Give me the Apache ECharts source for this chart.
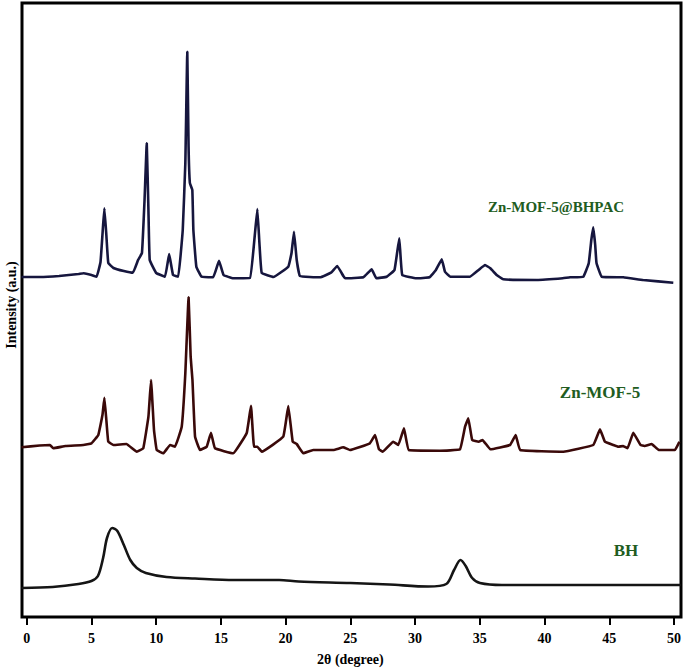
<!DOCTYPE html>
<html>
<head>
<meta charset="utf-8">
<script src="https://cdn.jsdelivr.net/npm/echarts@6/dist/echarts.min.js"></script>
<style>
html,body{margin:0;padding:0;background:#fff;}
#chart{width:685px;height:671px;}
</style>
</head>
<body>
<div id="chart"></div>
<script>
// ---- Data (2θ in degrees, intensity in arbitrary units above each trace's baseline) ----
const seriesNames = ["Zn-MOF-5@BHPAC", "Zn-MOF-5", "BH"];
const seriesOffsets = [337, 164, 27];   // vertical stacking offsets (a.u.)

const thetaComposite = [-0.4,1.0,2.5,4.0,4.4,5.0,5.4,5.7,5.9,6.0,6.15,6.3,6.7,7.5,8.2,8.6,8.9,9.1,9.27,9.4,9.5,10.0,10.68,11.0,11.3,11.7,12.05,12.25,12.4,12.5,12.6,12.79,12.87,13.1,13.5,14.4,14.85,15.2,15.95,17.24,17.6,17.81,17.97,18.15,19.05,20.2,20.45,20.64,20.85,21.1,22.65,23.5,23.98,24.45,24.6,26.0,26.64,27.0,27.8,28.4,28.77,29.0,30.1,31.1,31.6,32.05,32.3,32.7,34.23,34.9,35.39,35.8,36.29,36.8,39.38,41.4,41.95,42.98,43.4,43.6,43.75,43.9,44.0,44.4,46.07,47.6,49.93];
const intensityComposite = [3,3,4,6,6.7,5,3.3,18,55,71.7,45,17,12,9,7.3,20,27,80,136.7,70,20,7,3.3,26,5,3.3,50,117,228.3,133.3,97,90,50,13.3,3.3,2.7,19.3,5,1.7,2,43,71,37,7,3,13.3,27,48.3,20,4,2.7,7.3,14,4,1.7,2.7,10.7,1.7,3.3,10,41.7,5,1.7,2.7,10,20.7,8.3,3.3,3.3,10,15,11.7,5,0.7,0,1.7,2.7,3.3,16.7,40,52.7,35,17,3.3,2.7,0,-2.7];

const thetaMOF = [-0.4,1.0,1.8,2.05,3.0,4.37,5.0,5.53,5.85,6.0,6.15,6.3,6.7,7.7,8.5,9.0,9.4,9.6,9.83,10.04,10.55,11.07,11.45,11.97,12.25,12.5,12.66,12.8,13.0,13.38,13.9,14.23,14.54,15.95,16.99,17.32,17.55,17.81,18.15,19.81,20.2,20.54,20.85,21.36,22.13,23.68,24.45,24.96,26.5,26.9,27.2,27.5,28.3,28.7,29.13,29.5,31.9,33.46,33.85,34.1,34.4,34.9,35.2,35.8,37.32,37.76,38.1,41.44,43.75,44.27,44.65,45.3,45.68,46.06,46.4,46.84,47.4,47.7,48.26,48.8,50.06,50.4];
const intensityMOF = [5.7,7.5,8,4.7,7,8,9.7,18,38,55.3,33,11.3,8,9,1.3,4.7,36.3,73,23,3,-0.3,8,6.3,26.3,80,155.7,96.3,73,16.3,3,6.3,20.3,4.7,-0.3,20,47.3,6.3,6.3,1.3,16.3,47,11.3,9,-0.3,3,3,5.7,3,9.7,18,3.7,1.3,11.3,8,24.7,3,2.3,3.7,26.3,34.7,13,11.3,13,3.7,8,18,3,1.3,8,23.7,11.3,8,6.3,7,4.7,20.3,8,7,9,3,3,11.3];

const thetaBH = [-0.4,2,4,5,5.5,5.9,6.2,6.6,7.0,7.5,8.0,8.5,9.2,10.8,13,16,19.5,21,25,28,31,32.4,33.0,33.5,33.9,34.4,35.0,36.7,40,45,50.5];
const intensityBH = [2,3,6,9,14,32,52,62,59,45,30,22,17,13,11.5,10,10,8.5,7,5.5,3.5,6,20,30,24,12,7,5,5,5,5];

const xTickMin = 0, xTickMax = 50, xTickStep = 5;
const xAxisTitle = "2θ (degree)";
const yAxisTitle = "Intensity (a.u.)";

// ---- Build options ----
function pairs(th, inten, off) {
  return th.map((t, i) => [t, off + inten[i]]);
}
const thetas = [thetaComposite, thetaMOF, thetaBH];
const intens = [intensityComposite, intensityMOF, intensityBH];
const colors = ["#16163e", "#3a0909", "#151515"];
const smoothing = [0.08, 0.08, 0.3];

const serif = '"Liberation Serif", "Times New Roman", "DejaVu Serif", serif';
const labelGreen = "#215c21";

const chart = echarts.init(document.getElementById('chart'), null, {renderer: 'svg'});
const option = {
  animation: false,
  backgroundColor: '#ffffff',
  grid: [
    {left: 22, top: 3, width: 659, height: 614, show: true, borderColor: '#000', borderWidth: 3, backgroundColor: 'transparent'},
    {left: 26.7, top: 3, width: 647.3, height: 617, show: false}
  ],
  xAxis: [
    {gridIndex: 0, type: 'value', min: -0.363, max: 50.525, show: false},
    {gridIndex: 1, type: 'value', min: xTickMin, max: xTickMax, interval: xTickStep,
     axisLine: {show: false},
     axisTick: {show: true, length: 8, inside: false, lineStyle: {color: '#000', width: 2}},
     splitLine: {show: false},
     axisLabel: {margin: 14, color: '#000', fontFamily: serif, fontWeight: 'bold', fontSize: 14},
     name: xAxisTitle, nameLocation: 'middle', nameGap: 35,
     nameTextStyle: {color: '#000', fontFamily: serif, fontWeight: 'bold', fontSize: 14}}
  ],
  yAxis: [
    {gridIndex: 0, type: 'value', min: 0, max: 614, show: false},
    {gridIndex: 1, type: 'value', min: 0, max: 1, show: false}
  ],
  series: seriesNames.map((name, k) => ({
    name: name,
    type: 'line',
    xAxisIndex: 0,
    yAxisIndex: 0,
    data: pairs(thetas[k], intens[k], seriesOffsets[k]),
    showSymbol: false,
    smooth: smoothing[k],
    lineStyle: {color: colors[k], width: 2.6},
    itemStyle: {color: colors[k]}
  })),
  graphic: [
    {type: 'text', x: 11, y: 305, rotation: Math.PI / 2,
     style: {text: yAxisTitle, fill: '#000', font: 'bold 14px ' + serif, textAlign: 'center', textVerticalAlign: 'middle'}},
    {type: 'text', x: 556, y: 207,
     style: {text: seriesNames[0], fill: labelGreen, font: 'bold 15px ' + serif, textAlign: 'center', textVerticalAlign: 'middle'}},
    {type: 'text', x: 600, y: 392,
     style: {text: seriesNames[1], fill: labelGreen, font: 'bold 17px ' + serif, textAlign: 'center', textVerticalAlign: 'middle'}},
    {type: 'text', x: 626, y: 550,
     style: {text: seriesNames[2], fill: labelGreen, font: 'bold 17px ' + serif, textAlign: 'center', textVerticalAlign: 'middle'}}
  ]
};
chart.setOption(option);
</script>
</body>
</html>
